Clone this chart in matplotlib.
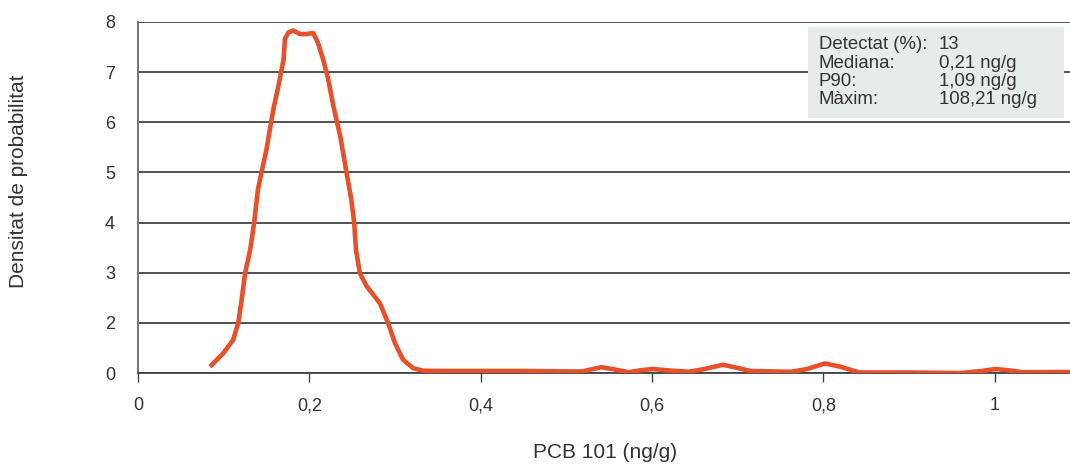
import numpy as np
import matplotlib
matplotlib.use("Agg")
import matplotlib.pyplot as plt
from matplotlib.patches import Rectangle

plt.rcParams['font.family'] = ['Liberation Sans', 'DejaVu Sans']

# Density curve (x in ng/g, y = probability density)
x_vals = [0.084, 0.0996, 0.111, 0.117, 0.121, 0.125, 0.131, 0.1355, 0.140, 0.144,
          0.150, 0.158, 0.164, 0.170, 0.1715, 0.1755, 0.181, 0.189, 0.197, 0.2045,
          0.210, 0.216, 0.222, 0.228, 0.236, 0.2435, 0.249, 0.2524, 0.2544, 0.259,
          0.2669, 0.2824, 0.292, 0.300, 0.3096, 0.3213, 0.333, 0.352, 0.40, 0.45,
          0.518, 0.530, 0.541, 0.555, 0.573, 0.585, 0.6006, 0.62, 0.643, 0.66,
          0.683, 0.70, 0.715, 0.762, 0.78, 0.802, 0.82, 0.842, 0.90, 0.96,
          0.985, 1.001, 1.018, 1.033, 1.088]
y_vals = [0.25, 0.79, 1.32, 1.99, 2.46, 2.99, 3.46, 3.99, 4.66, 4.99,
          5.46, 6.26, 6.73, 7.26, 7.66, 7.79, 7.83, 7.76, 7.76, 7.78,
          7.59, 7.26, 6.86, 6.33, 5.73, 4.99, 4.46, 3.99, 3.46, 2.99,
          2.73, 2.39, 1.99, 1.19, 0.52, 0.19, 0.09, 0.08, 0.08, 0.08,
          0.06, 0.15, 0.23, 0.15, 0.03, 0.10, 0.16, 0.10, 0.05, 0.15,
          0.33, 0.20, 0.08, 0.05, 0.15, 0.38, 0.25, 0.02, 0.02, 0.00,
          0.08, 0.16, 0.10, 0.03, 0.04]

x_ticks = [0, 0.2, 0.4, 0.6, 0.8, 1.0]
x_tick_labels = ["0", "0,2", "0,4", "0,6", "0,8", "1"]
y_ticks = [0, 2, 3, 4, 5, 6, 7, 8]
y_tick_labels = ["0", "2", "3", "4", "5", "6", "7", "8"]

stat_labels = ["Detectat (%):", "Mediana:", "P90:", "Màxim:"]
stat_values = ["13", "0,21 ng/g", "1,09 ng/g", "108,21 ng/g"]

x_label = "PCB 101 (ng/g)"
y_label = "Densitat de probabilitat"

line_color = "#e8502a"
text_color = "#333333"

W, H = 1070, 468
fig = plt.figure(figsize=(W / 100, H / 100), dpi=100)
ax = fig.add_axes([138 / W, 1 - 373 / H, (W - 138) / W, (373 - 22) / H])


def fwd(y):
    y = np.asarray(y, dtype=float)
    return np.where(y < 2, y / 2, y - 1)


def inv(u):
    u = np.asarray(u, dtype=float)
    return np.where(u < 1, 2 * u, u + 1)


ax.set_yscale('function', functions=(fwd, inv))
ax.set_ylim(0, 8)
ax.set_xlim(0, 1.088)

ax.plot(x_vals, y_vals, color=line_color, lw=3.3, solid_capstyle='butt',
        solid_joinstyle='round', zorder=4)

ax.set_xticks(x_ticks)
ax.set_xticklabels(x_tick_labels)
ax.set_yticks(y_ticks)
ax.set_yticklabels(y_tick_labels)
ax.yaxis.set_minor_locator(matplotlib.ticker.NullLocator())
ax.xaxis.set_minor_locator(matplotlib.ticker.NullLocator())

ax.tick_params(axis='y', length=0, pad=16.5, labelsize=13, labelcolor=text_color)
ax.tick_params(axis='x', length=6.5, width=1.0, color='#444444', pad=11,
               labelsize=13, labelcolor=text_color)

ax.set_axisbelow(True)
ax.grid(axis='y', color='#222222', lw=1.1)
ax.grid(axis='x', visible=False)

for s in ['top', 'right']:
    ax.spines[s].set_visible(False)
ax.spines['left'].set_color('#777777')
ax.spines['left'].set_linewidth(1.5)
ax.spines['bottom'].set_color('#444444')
ax.spines['bottom'].set_linewidth(1.3)

fig.text(605 / W, 1 - 453 / H, x_label, ha='center', va='center',
         fontsize=15, color=text_color)
fig.text(19 / W, 1 - 181 / H, y_label, ha='center', va='center',
         rotation=90, fontsize=15, color=text_color)

# Summary box
box = Rectangle((808 / W, 1 - 118 / H), 256 / W, 91 / H, transform=fig.transFigure,
                facecolor='#e6ecea', edgecolor='none', zorder=3)
ax.add_artist(box)
box.set_clip_on(False)

baselines = [49.3, 67.7, 86.0, 104.5]
for lab, val, b in zip(stat_labels, stat_values, baselines):
    fig.text(819 / W, 1 - b / H, lab, ha='left', va='baseline', fontsize=13.4,
             color=text_color, zorder=5)
    fig.text(939 / W, 1 - b / H, val, ha='left', va='baseline', fontsize=13.4,
             color=text_color, zorder=5)

fig.savefig("out.png", dpi=100)
